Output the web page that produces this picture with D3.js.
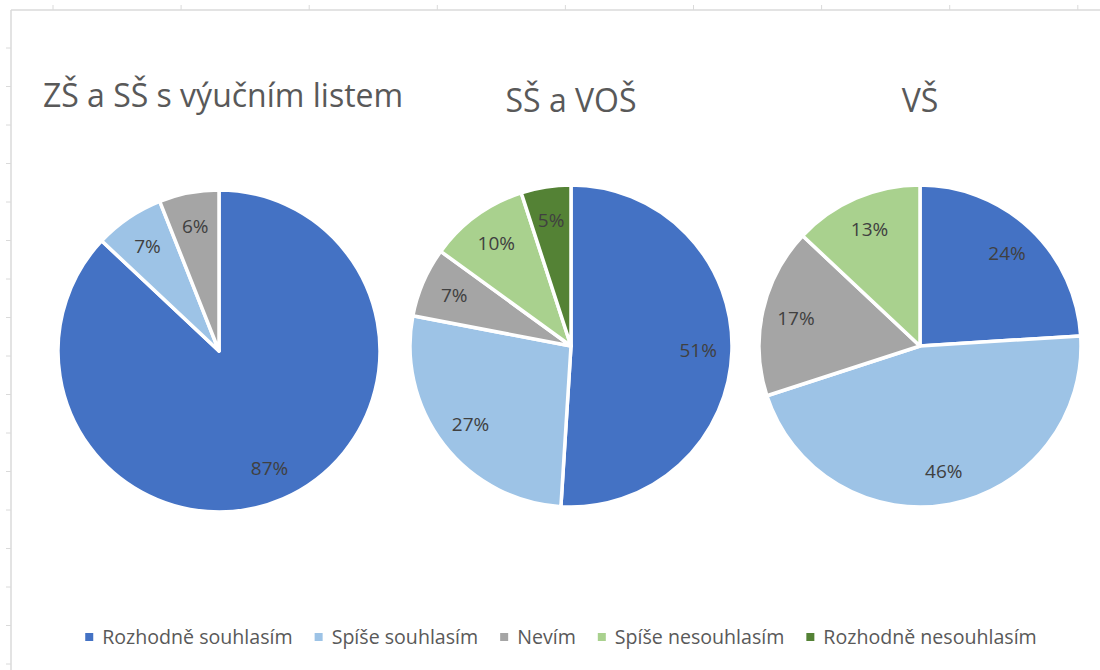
<!DOCTYPE html>
<html>
<head>
<meta charset="utf-8">
<script src="https://cdn.jsdelivr.net/npm/d3@7"></script>
<style>
  body { margin: 0; background: #fff; }
  svg { display: block; font-family: 'Open Sans', sans-serif; }
</style>
</head>
<body>
<div id="chart"></div>
<script>
// categories + colours (Excel office palette)
const categories = ['Rozhodně souhlasím', 'Spíše souhlasím', 'Nevím', 'Spíše nesouhlasím', 'Rozhodně nesouhlasím'];
const colors = ['#4472C4', '#9DC3E6', '#A5A5A5', '#A9D18E', '#548235'];

// one list per pie, in category order (percent)
const groupTitles = ['ZŠ a SŠ s výučním listem', 'SŠ a VOŠ', 'VŠ'];
const zsValues = [87, 7, 6, 0, 0];
const ssValues = [51, 27, 7, 10, 5];
const vsValues = [24, 46, 17, 13, 0];

const W = 1100;
const H = 670;

const svg = d3.select('#chart').append('svg')
  .attr('width', W)
  .attr('height', H);

// spreadsheet frame behind the chart
const grid = svg.append('g').attr('class', 'sheet');
grid.append('line')
  .attr('x1', 11).attr('x2', W).attr('y1', 10).attr('y2', 10)
  .style('stroke', '#dadada').style('stroke-width', 1.5);
grid.append('line')
  .attr('x1', 11).attr('x2', 11).attr('y1', 10).attr('y2', H)
  .style('stroke', '#dadada').style('stroke-width', 1.5);
grid.selectAll('.tx')
  .data(d3.range(53, W, 128.1))
  .enter().append('line')
  .attr('x1', d => d).attr('x2', d => d).attr('y1', 5).attr('y2', 10)
  .style('stroke', '#dadada');
grid.selectAll('.ty')
  .data(d3.range(48, H, 38.5))
  .enter().append('line')
  .attr('x1', 6).attr('x2', 11).attr('y1', d => d).attr('y2', d => d)
  .style('stroke', '#dadada');

// layout of each pie
const pies = [
  { title: groupTitles[0], values: zsValues, cx: 219, cy: 351, ty: 107, tx: 223 },
  { title: groupTitles[1], values: ssValues, cx: 571, cy: 346, ty: 112, tx: 571 },
  { title: groupTitles[2], values: vsValues, cx: 920, cy: 346, ty: 112, tx: 920 }
];

const radius = 161;
const pie = d3.pie().sort(null).value(d => d.value);
const arc = d3.arc().innerRadius(0).outerRadius(radius);
const labelArc = d3.arc().innerRadius(radius * 0.79).outerRadius(radius * 0.79);

pies.forEach((p) => {
  const data = p.values.map((v, i) => ({ value: v, i }));

  svg.append('text')
    .attr('x', p.tx)
    .attr('y', p.ty)
    .attr('text-anchor', 'middle')
    .style('font-size', '32px')
    .style('fill', '#595959')
    .text(p.title);

  const g = svg.append('g')
    .attr('transform', `translate(${p.cx}, ${p.cy})`);

  const slices = pie(data).filter(d => d.data.value > 0);

  g.selectAll('path')
    .data(slices)
    .enter().append('path')
    .attr('d', arc)
    .attr('fill', d => colors[d.data.i])
    .style('stroke', '#fff')
    .style('stroke-width', 3.5)
    .style('stroke-linejoin', 'round');

  g.selectAll('text')
    .data(slices)
    .enter().append('text')
    .attr('transform', d => `translate(${labelArc.centroid(d)})`)
    .attr('text-anchor', 'middle')
    .attr('dy', '0.36em')
    .style('font-size', '19px')
    .style('fill', '#404040')
    .text(d => `${d.data.value}%`);
});

// legend
const legend = svg.append('g').attr('class', 'legend');
const items = legend.selectAll('g')
  .data(categories)
  .enter().append('g');

items.append('rect')
  .attr('width', 8).attr('height', 8)
  .attr('y', -11)
  .attr('fill', (d, i) => colors[i]);

items.append('text')
  .attr('x', 17)
  .style('font-size', '19.6px')
  .style('fill', '#595959')
  .text(d => d);

let offset = 0;
items.each(function () {
  const w = this.querySelector('text').getComputedTextLength();
  d3.select(this).attr('data-x', offset);
  offset += 17 + w + 22;
});
const total = offset - 22;
const startX = 561 - total / 2;
items.attr('transform', function () {
  return `translate(${startX + +this.getAttribute('data-x')}, 644)`;
});
</script>
</body>
</html>
